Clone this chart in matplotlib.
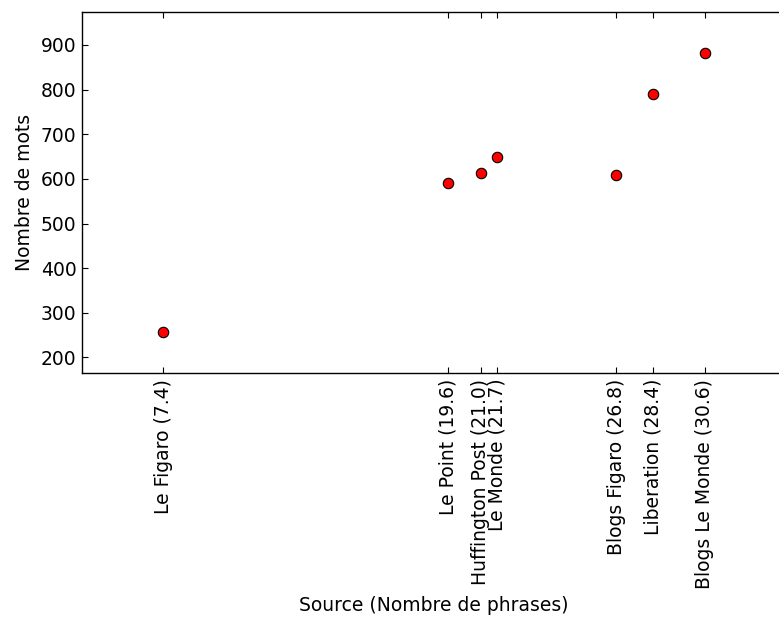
import numpy as np
import matplotlib
matplotlib.use("Agg")
import matplotlib.pyplot as plt

# Données : nombre moyen de phrases et nombre de mots par source
sources = ["Le Figaro", "Le Point", "Huffington Post", "Le Monde",
           "Blogs Figaro", "Liberation", "Blogs Le Monde"]
phrases = [7.4, 19.6, 21.0, 21.7, 26.8, 28.4, 30.6]
mots = [258, 591, 614, 650, 608, 791, 881]

labels = ["%s (%.1f)" % (s, p) for s, p in zip(sources, phrases)]

plt.rcParams["font.family"] = "DejaVu Sans"
plt.rcParams["font.size"] = 13.5

fig = plt.figure(figsize=(7.79, 6.19), dpi=100)
W, H = 779.0, 619.0
ax = fig.add_axes([82 / W, (H - 373.3) / H, (786 - 82) / W, (373.3 - 11.7) / H])

ax.plot(phrases, mots, "o", color="red", markeredgecolor="black",
        markeredgewidth=0.8, markersize=7.5, linestyle="none")

# marges de 15% autour des données
xr = max(phrases) - min(phrases)
yr = max(mots) - min(mots)
ax.set_xlim(min(phrases) - 0.15 * xr, max(phrases) + 0.15 * xr)
ax.set_ylim(min(mots) - 0.15 * yr, max(mots) + 0.15 * yr)

ax.set_xticks(phrases)
ax.set_xticklabels(labels, rotation=90)
ax.set_yticks(np.arange(200, 1000, 100))
ax.tick_params(direction="in", top=True, right=True, length=4, width=0.8,
               pad=4, labelsize=13.5)

for sp in ax.spines.values():
    sp.set_linewidth(1.0)
    sp.set_color("black")

ax.set_xlabel("Source (Nombre de phrases)", fontsize=13.5, labelpad=5)
ax.set_ylabel("Nombre de mots", fontsize=13.5, labelpad=5)

fig.savefig("out.png", dpi=100)
